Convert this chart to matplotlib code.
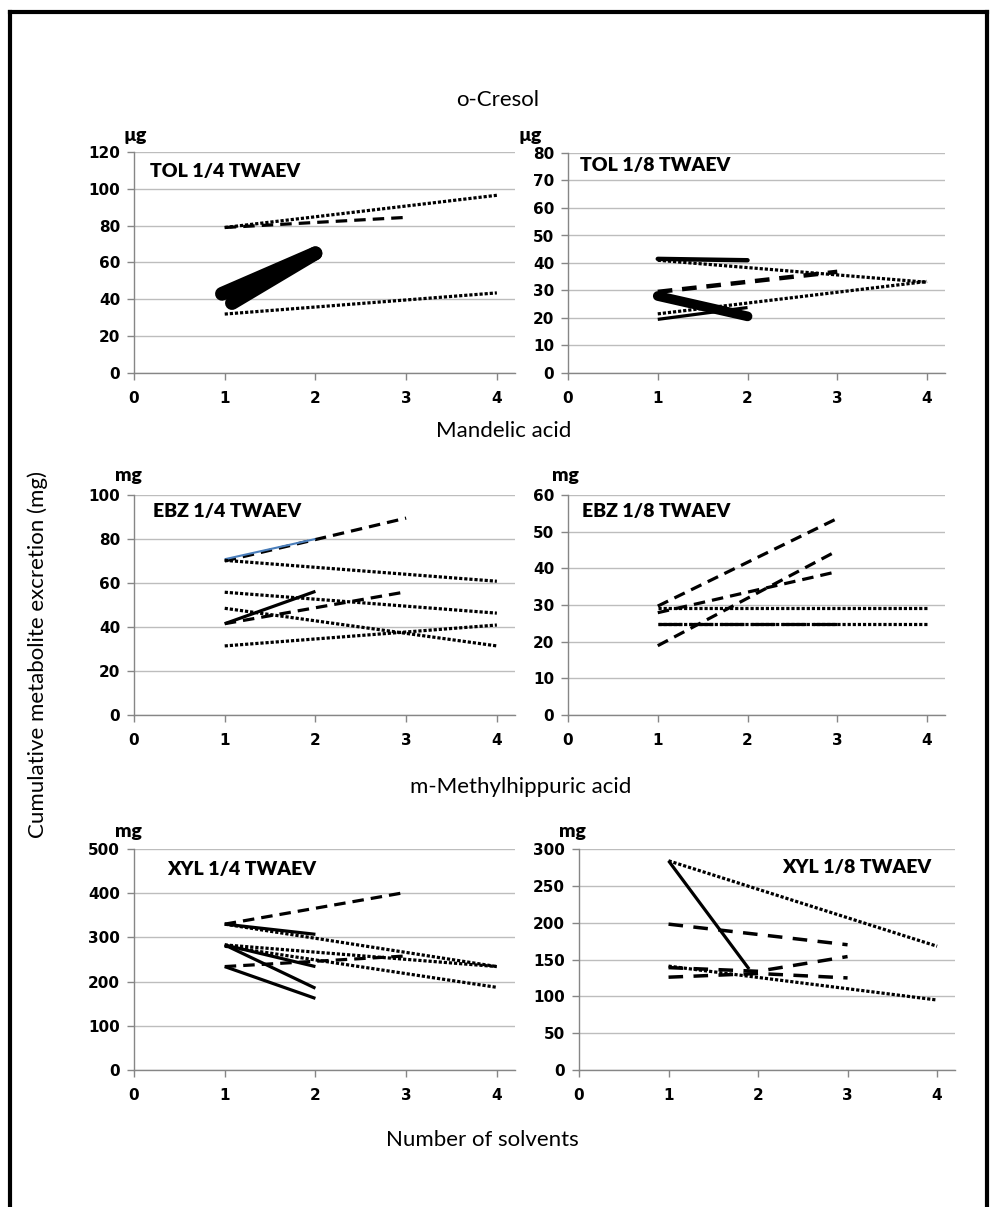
import matplotlib
matplotlib.use("Agg")
import matplotlib.pyplot as plt
from matplotlib.lines import Line2D

# ---------------------------------------------------------------- data
# Each panel: list of series (x values = number of solvents, y values = excretion)
tol4_x = [[1, 4], [1, 3], [1, 4], [0.97, 2], [1.08, 2]]
tol4_y = [[79, 96.5], [79, 84.5], [32, 43.5], [43, 65], [38, 65]]
tol4_kind = ["dot", "dash", "dot", "thick", "thick"]

tol8_x = [[1, 2], [1, 4], [1, 3], [1, 4], [1, 2], [1, 2]]
tol8_y = [[41.5, 41], [41, 33], [29.5, 36.8], [21.5, 33.3], [28, 20.6], [19.5, 23.8]]
tol8_kind = ["solid_b", "dot", "dash_b", "dot", "thick2", "solid"]

ebz4_x = [[1, 3], [1, 2], [1, 4], [1, 4], [1, 2], [1, 3], [1, 4], [1, 4]]
ebz4_y = [[70, 89.5], [70.8, 80], [70.3, 60.8], [55.8, 46.3], [41.5, 56.2],
          [41.5, 56], [48.5, 31.4], [31.4, 40.9]]
ebz4_kind = ["dash", "blue", "dot", "dot", "solid", "dash", "dot", "dot"]

ebz8_x = [[1, 3], [1, 3], [1, 3], [1, 4], [1, 4], [1, 3]]
ebz8_y = [[29.7, 53.6], [27.9, 39.1], [18.9, 44.8], [29.1, 29.1], [24.8, 24.8], [24.8, 24.8]]
ebz8_kind = ["dash", "dash", "dash", "dot", "dot", "ldash"]

xyl4_x = [[1, 3], [1, 2], [1, 4], [1, 4], [1, 4], [1, 2], [1, 2], [1, 3], [1, 2]]
xyl4_y = [[330, 402], [330, 307], [330, 234], [283, 234], [280, 187],
          [283, 234], [283, 185], [234, 258], [234, 162]]
xyl4_kind = ["dash", "solid", "dot", "dot", "dot", "solid", "solid", "dash", "solid"]

xyl8_x = [[1, 4], [1, 1.9], [1, 3], [1, 2, 3], [1, 2, 3], [1, 4]]
xyl8_y = [[284, 168], [284, 137], [198, 170], [139, 134, 154], [126, 131, 125], [141, 95]]
xyl8_kind = ["dot", "solid", "dash_l", "dash_l", "dash_l", "dot"]

panel_titles = ["TOL 1/4 TWAEV", "TOL 1/8 TWAEV", "EBZ 1/4 TWAEV",
                "EBZ 1/8 TWAEV", "XYL 1/4 TWAEV", "XYL 1/8 TWAEV"]
unit_labels = ["\u00b5g", "\u00b5g", "mg", "mg", "mg", "mg"]
y_max = [120, 80, 100, 60, 500, 300]
y_step = [20, 10, 20, 10, 100, 50]
x_ticks = [0, 1, 2, 3, 4]
section_titles = ["o-Cresol", "Mandelic acid", "m-Methylhippuric acid"]
x_title = "Number of solvents"
y_title = "Cumulative metabolite excretion (mg)"

# ---------------------------------------------------------------- styles
STYLES = {
    "dot":     dict(lw=2.3, ls=(0, (1, 0.6)), dash_capstyle="butt"),
    "dash":    dict(lw=2.3, ls=(0, (3.6, 2.2)), dash_capstyle="butt"),
    "dash_b":  dict(lw=3.2, ls=(0, (3.3, 2.2)), dash_capstyle="butt"),
    "dash_l":  dict(lw=2.5, ls=(0, (4.2, 3.0)), dash_capstyle="butt"),
    "ldash":   dict(lw=2.3, ls=(0, (7.5, 2.2)), dash_capstyle="butt"),
    "solid":   dict(lw=2.3, solid_capstyle="butt"),
    "solid_b": dict(lw=3.2, solid_capstyle="round"),
    "thick":   dict(lw=10.0, solid_capstyle="round"),
    "thick2":  dict(lw=7.0, solid_capstyle="round"),
    "blue":    dict(lw=1.5, color="#4a7ebb", solid_capstyle="butt"),
}

W, H = 995, 1207
fig = plt.figure(figsize=(W / 100, H / 100), dpi=100)
fig.patch.set_facecolor("white")

TXT = ["Lato", "DejaVu Sans"]
NUM = ["DejaVu Sans"]


def box(l, r, t, b):
    return [l / W, 1 - b / H, (r - l) / W, (b - t) / H]


def ftext(x, y, s, **kw):
    fig.text(x / W, 1 - y / H, s, **kw)


# panel frames in pixels: left, right, top, bottom
frames = [(134, 515, 152, 373), (568, 945, 153, 373),
          (134, 515, 495, 715), (568, 945, 495, 715),
          (134, 515, 849, 1070), (579, 955, 849, 1070)]
series = [(tol4_x, tol4_y, tol4_kind), (tol8_x, tol8_y, tol8_kind),
          (ebz4_x, ebz4_y, ebz4_kind), (ebz8_x, ebz8_y, ebz8_kind),
          (xyl4_x, xyl4_y, xyl4_kind), (xyl8_x, xyl8_y, xyl8_kind)]
title_pos = [(150, 172), (580, 165), (153, 512), (582, 511), (167, 869), (782, 867)]
unit_pos = [(135, 135), (530, 135), (128, 476), (565, 476), (128, 831), (572, 831)]

grid_c = "#bdbdbd"
axis_c = "#868686"

for i, (fr, (xs, ys, kinds)) in enumerate(zip(frames, series)):
    ax = fig.add_axes(box(*fr))
    ax.set_xlim(0, 4.2)
    ax.set_ylim(0, y_max[i])
    ax.set_yticks(range(0, y_max[i] + 1, y_step[i]))
    ax.set_xticks(x_ticks)
    for s in ["top", "right"]:
        ax.spines[s].set_visible(False)
    for s in ["left", "bottom"]:
        ax.spines[s].set_color(axis_c)
        ax.spines[s].set_linewidth(1.0)
    ax.yaxis.grid(True, color=grid_c, lw=1.0)
    ax.set_axisbelow(True)
    ax.tick_params(axis="both", direction="out", length=5, width=1.0,
                   color=axis_c, labelsize=11)
    ax.tick_params(axis="y", pad=5)
    ax.tick_params(axis="x", pad=8)
    for lab in ax.get_xticklabels() + ax.get_yticklabels():
        lab.set_fontweight("bold")
        lab.set_family(NUM)
    ax.patch.set_alpha(0)
    for x, y, k in zip(xs, ys, kinds):
        st = dict(color="black")
        st.update(STYLES[k])
        ax.plot(x, y, **st)
    tx, ty = title_pos[i]
    ftext(tx, ty, panel_titles[i], ha="left", va="center", fontsize=14,
          fontweight="heavy", family=TXT)
    ux, uy = unit_pos[i]
    ftext(ux, uy, unit_labels[i], ha="center", va="center", fontsize=14,
          fontweight="heavy", family=TXT)

# section and axis titles
ftext(498, 100, section_titles[0], ha="center", va="center", fontsize=16, family=TXT)
ftext(504, 431, section_titles[1], ha="center", va="center", fontsize=16, family=TXT)
ftext(521, 787, section_titles[2], ha="center", va="center", fontsize=16, family=TXT)
ftext(482, 1140, x_title, ha="center", va="center", fontsize=16, family=TXT)
ftext(38, 655, y_title, ha="center", va="center", fontsize=16, rotation=90, family=TXT)

# outer frame (open at the bottom edge of the figure)
frame_kw = dict(color="black", lw=3.0, transform=fig.transFigure)
fig.add_artist(Line2D([9.5 / W, 9.5 / W], [1 - 12 / H, -0.02], **frame_kw))
fig.add_artist(Line2D([9.5 / W, 987 / W], [1 - 12 / H, 1 - 12 / H], **frame_kw))
fig.add_artist(Line2D([987 / W, 987 / W], [1 - 12 / H, -0.02], **frame_kw))

fig.savefig("out.png", dpi=100, facecolor="white")
